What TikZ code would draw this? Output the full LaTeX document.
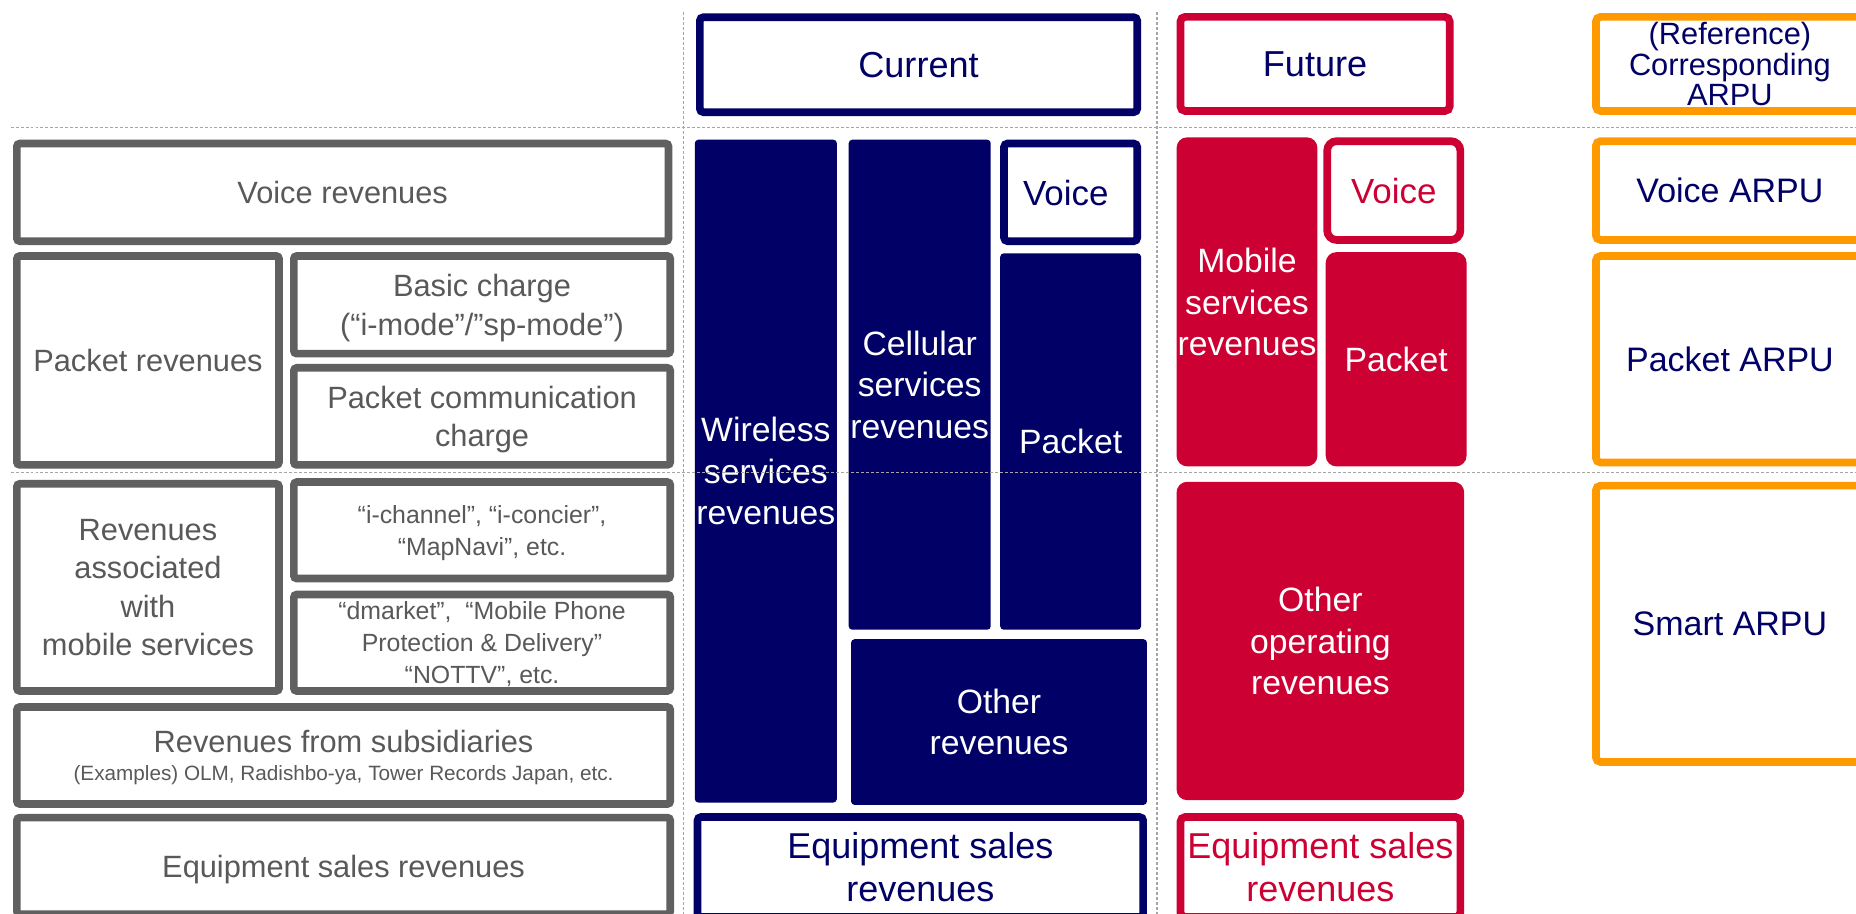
\documentclass[tikz,border=0pt]{standalone}
\usepackage{fontspec}
\setmainfont{Liberation Sans}
\definecolor{navy}{RGB}{0,0,102}
\definecolor{crimson}{RGB}{204,0,51}
\definecolor{amber}{RGB}{255,153,0}
\definecolor{boxgray}{RGB}{96,96,96}
\definecolor{txtgray}{RGB}{89,89,89}
\definecolor{guidegray}{RGB}{166,166,166}
\begin{document}
\begin{tikzpicture}[x=1pt,y=-1pt,
    every node/.style={inner sep=0pt,outer sep=0pt,align=center,text depth=0pt},
    sz/.style 2 args={minimum width=#1,minimum height=#2},
    boxline/.style={line width=6.5pt,fill=white},
    grayframe/.style={boxline,draw=boxgray,rounded corners=2.5pt,text=txtgray,font=\fontsize{26}{32.5}\selectfont},
    graysmall/.style={grayframe,font=\fontsize{21}{27}\selectfont},
    navyframe/.style={boxline,draw=navy,rounded corners=3pt,text=navy},
    navyblock/.style={fill=navy,rounded corners=3pt,text=white,font=\fontsize{28.5}{35}\selectfont},
    redframe/.style={boxline,draw=crimson,rounded corners=4pt},
    redblock/.style={fill=crimson,rounded corners=9pt,text=white,font=\fontsize{28.5}{35}\selectfont},
    amberframe/.style={boxline,draw=amber,rounded corners=4pt,text=navy,font=\fontsize{28.7}{35}\selectfont},
    guideline/.style={draw=guidegray,line width=1pt,dash pattern=on 2.5pt off 1.7pt}]
\clip (0,0) rectangle (1568,772);
\node[grayframe,sz={550.5}{82.5}] (voicerev) at (289.5,162.5) {Voice revenues};
\node[grayframe,sz={221.5}{176.5}] (pktrev) at (125,304.5) {Packet revenues};
\node[grayframe,sz={318}{82.5}] (basic) at (407.25,257.5) {Basic charge\\(“i-mode”/”sp-mode”)};
\node[grayframe,sz={318}{82}] (pktcomm) at (407.25,351.75) {Packet communication\\charge};
\node[grayframe,sz={221.5}{175},font=\fontsize{26}{32.3}\selectfont] (assoc) at (125,496.25) {Revenues\\associated\\with\\mobile services};
\node[graysmall,sz={318}{81.5}] (ichan) at (407.25,448) {“i-channel”, “i-concier”,\\“MapNavi”, etc.};
\node[graysmall,sz={318}{81.5}] (dmarket) at (407.25,543) {“dmarket”, \ “Mobile Phone\\Protection \& Delivery”\\“NOTTV”, etc.};
\node[grayframe,sz={552}{82}] (subsid) at (290.25,638.25) {Revenues from subsidiaries\\[-8.5pt]{\fontsize{17.5}{20}\selectfont (Examples) OLM, Radishbo-ya, Tower Records Japan, etc.}};
\node[grayframe,sz={552}{81.5}] (equipL) at (290.25,731.5) {Equipment sales revenues};
\node[navyframe,sz={369.5}{80.2},font=\fontsize{30.5}{36}\selectfont] (current) at (776,54.65) {Current};
\node[navyblock,sz={120}{560}] (wireless) at (647,398) {Wireless\\services\\revenues};
\node[navyblock,sz={120}{414}] (cellular) at (777,325) {Cellular\\services\\revenues};
\node[navyframe,sz={112.5}{82.5},font=\fontsize{29.5}{35}\selectfont] (voiceC) at (904.5,162.5) {Voice\ };
\node[navyblock,sz={119}{318}] (packetC) at (904.5,373) {Packet};
\node[navyblock,sz={250}{140}] (otherC) at (844,610) {Other\\revenues};
\node[navyframe,sz={376.5}{84.5},font=\fontsize{30.4}{37}\selectfont] (equipC) at (777.5,732.5) {Equipment sales\\revenues};
\node[redframe,sz={227.5}{79.5},text=navy,font=\fontsize{30.5}{36}\selectfont] (future) at (1111,54) {Future};
\node[redblock,sz={119}{278}] (mobile) at (1053.5,255) {Mobile\\services\\revenues};
\node[redframe,sz={112.5}{83.5},rounded corners=8pt,text=crimson,font=\fontsize{29.5}{35}\selectfont] (voiceF) at (1177.5,161) {Voice};
\node[redblock,sz={119}{181}] (packetF) at (1179.5,303.5) {Packet};
\node[redblock,sz={243}{269}] (otherF) at (1115.5,541.5) {Other\\operating\\revenues};
\node[redframe,sz={236.5}{84.5},text=crimson,font=\fontsize{30.4}{37}\selectfont] (equipF) at (1115.5,732.5) {Equipment sales\\revenues};
\node[amberframe,sz={226.5}{79.5},font=\fontsize{26}{26}\selectfont] (arpuhead) at (1461.5,54) {(Reference)\\Corresponding\\ARPU};
\node[amberframe,sz={226.5}{83.5}] (voiceA) at (1461.5,161) {Voice ARPU};
\node[amberframe,sz={226.5}{174.5}] (packetA) at (1461.5,303.5) {Packet ARPU};
\node[amberframe,sz={226.5}{233.5}] (smartA) at (1461.5,527) {Smart ARPU};
\draw[guideline] (9,107.5) -- (1568,107.5);
\draw[guideline] (9,399.5) -- (1568,399.5);
\draw[guideline] (577.5,10) -- (577.5,772);
\draw[guideline] (977.5,10) -- (977.5,772);
\end{tikzpicture}
\end{document}
